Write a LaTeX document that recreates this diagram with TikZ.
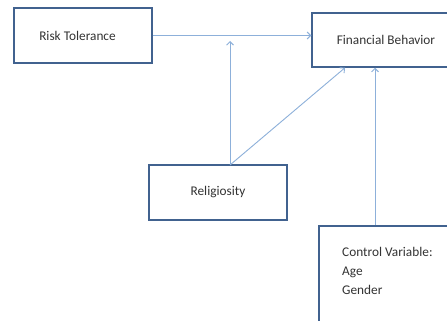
\documentclass[tikz,border=0pt]{standalone}
\usepackage{fontspec}
\setmainfont{Carlito}
\usetikzlibrary{arrows.meta}
\definecolor{boxc}{HTML}{41628F}
\definecolor{arrc}{HTML}{8DB0DA}
\begin{document}
\begin{tikzpicture}[x=1pt,y=-1pt,
  varbox/.style={draw=boxc,line width=1.5pt,fill=white,font=\fontsize{13.3}{16}\selectfont,text=black!80},
  conn/.style={draw=arrc,line width=0.9pt},
  arr/.style={conn,-{Straight Barb[length=3.5pt,width=7pt]}}]
\useasboundingbox (0,0) rectangle (447,321);
\clip (0,0) rectangle (447,321);
\fill[white] (0,0) rectangle (447,321);
\node[varbox,minimum width=138pt,minimum height=55pt] (risk) at (83,35.5) {Risk Tolerance\hspace*{11pt}};
\node[varbox,minimum width=148pt,minimum height=54pt] (fin) at (386,40) {Financial Behavior};
\node[varbox,minimum width=138pt,minimum height=55pt] (rel) at (218,192.5) {Religiosity};
\node[varbox,minimum width=150pt,minimum height=120pt,anchor=north west] (ctrl) at (318,225) {};
\node[anchor=north west,align=left,inner sep=0pt,font=\fontsize{13.3}{19}\selectfont,text=black!80] (ctrltxt) at (342,247.5) {Control Variable:\\Age\\Gender};
\coordinate (rtop) at (230,165);
\coordinate (mod) at (230,41);
\path[arr] (risk.east) -- (risk.east -| fin.west);
\path[arr] (rtop) -- (fin.south west -| 345,0);
\path[arr] (rtop) -- (mod);
\path[arr] (ctrl.north -| 375,0) -- (fin.south -| 375,0);
\end{tikzpicture}
\end{document}
